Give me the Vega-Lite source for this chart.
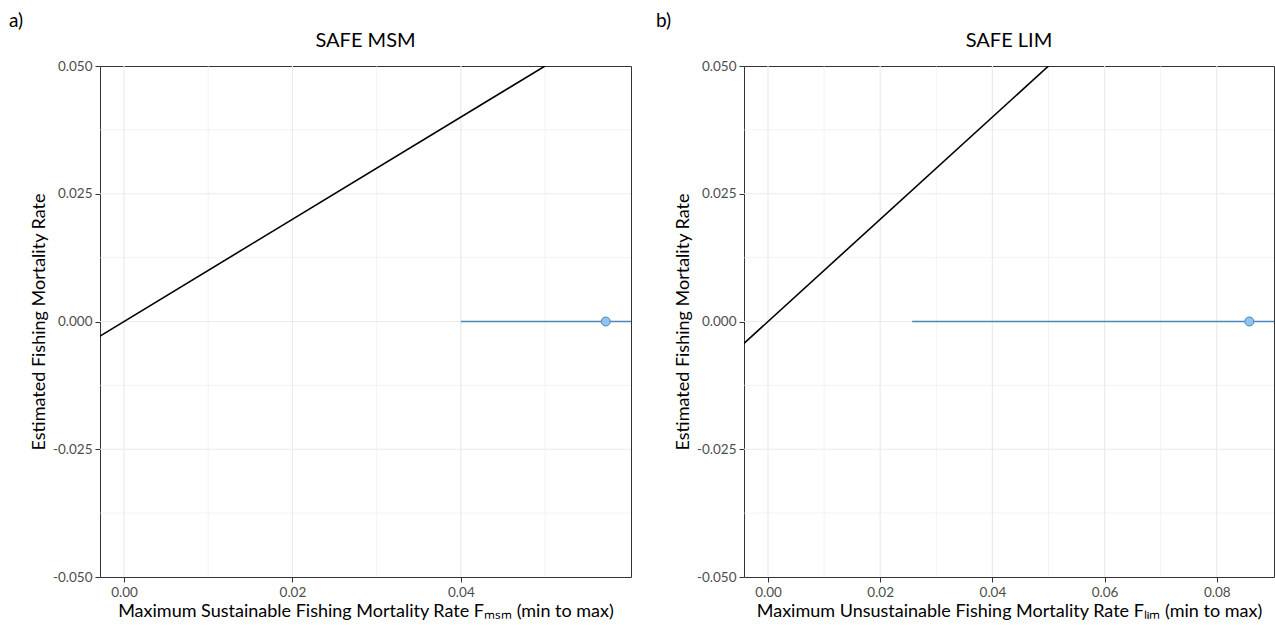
{
  "$schema": "https://vega.github.io/schema/vega-lite/v6.json",
  "padding": {"left": 8, "top": 11, "right": 0, "bottom": 0},
  "spacing": 22,
  "config": {
    "font": "Lato",
    "view": {"stroke": "#333333", "strokeWidth": 1},
    "axis": {
      "domain": false,
      "tickColor": "#333333",
      "tickSize": 5,
      "labelColor": "#4D4D4D",
      "labelFontSize": 13.5,
      "labelPadding": 3,
      "titleFontSize": 18,
      "titleFontWeight": "normal",
      "titleColor": "black",
      "grid": false
    },
    "title": {"fontSize": 20, "fontWeight": "normal", "color": "black"}
  },
  "hconcat": [
    {
      "title": {"text": "a)", "anchor": "start", "frame": "bounds", "fontSize": 19, "dx": -21, "offset": 0},
      "vconcat": [
        {
          "title": {"text": "SAFE MSM", "offset": 8},
          "width": 531,
          "height": 511,
          "layer": [
            {
              "data": {"values": [{"x": 0.01}, {"x": 0.03}, {"x": 0.05}]},
              "mark": {"type": "rule", "color": "#EBEBEB", "strokeWidth": 0.6},
              "encoding": {
                "x": {"field": "x", "type": "quantitative", "title": "Maximum Sustainable Fishing Mortality Rate Fₘₛₘ (min to max)",
                  "scale": {"domain": [-0.00285, 0.0602], "nice": false, "zero": false},
                  "axis": {"values": [0, 0.02, 0.04], "format": ".2f"}}
              }
            },
            {
              "data": {"values": [{"x": 0}, {"x": 0.02}, {"x": 0.04}]},
              "mark": {"type": "rule", "color": "#EBEBEB", "strokeWidth": 1.2},
              "encoding": {
                "x": {"field": "x", "type": "quantitative", "title": "Maximum Sustainable Fishing Mortality Rate Fₘₛₘ (min to max)"}
              }
            },
            {
              "data": {"values": [{"y": -0.0375}, {"y": -0.0125}, {"y": 0.0125}, {"y": 0.0375}]},
              "mark": {"type": "rule", "color": "#EBEBEB", "strokeWidth": 0.6},
              "encoding": {
                "y": {"field": "y", "type": "quantitative", "title": "Estimated Fishing Mortality Rate",
                  "scale": {"domain": [-0.05, 0.05], "nice": false, "zero": false},
                  "axis": {"values": [-0.05, -0.025, 0, 0.025, 0.05], "format": ".3f", "labelExpr": "replace(format(datum.value, '.3f'), '−', '-')"}}
              }
            },
            {
              "data": {"values": [{"y": -0.025}, {"y": 0}, {"y": 0.025}]},
              "mark": {"type": "rule", "color": "#EBEBEB", "strokeWidth": 1.2},
              "encoding": {
                "y": {"field": "y", "type": "quantitative", "title": "Estimated Fishing Mortality Rate"}
              }
            },
            {
              "data": {"values": [{"x": -0.01, "y": -0.01}, {"x": 0.1, "y": 0.1}]},
              "mark": {"type": "line", "color": "black", "strokeWidth": 1.6, "clip": true},
              "encoding": {
                "x": {"field": "x", "type": "quantitative", "title": "Maximum Sustainable Fishing Mortality Rate Fₘₛₘ (min to max)"},
                "y": {"field": "y", "type": "quantitative", "title": "Estimated Fishing Mortality Rate"}
              }
            },
            {
              "data": {"values": [{"x": 0.04, "x2": 0.07, "y": 0}]},
              "mark": {"type": "rule", "color": "#4A86B8", "strokeWidth": 1.5, "clip": true},
              "encoding": {
                "x": {"field": "x", "type": "quantitative", "title": "Maximum Sustainable Fishing Mortality Rate Fₘₛₘ (min to max)"},
                "x2": {"field": "x2"},
                "y": {"field": "y", "type": "quantitative", "title": "Estimated Fishing Mortality Rate"}
              }
            },
            {
              "data": {"values": [{"x": 0.0572, "y": 0}]},
              "mark": {"type": "point", "shape": "circle", "filled": true, "fill": "#8EC5F0", "stroke": "#4A86B8", "strokeWidth": 1, "size": 80, "opacity": 1},
              "encoding": {
                "x": {"field": "x", "type": "quantitative", "title": "Maximum Sustainable Fishing Mortality Rate Fₘₛₘ (min to max)"},
                "y": {"field": "y", "type": "quantitative", "title": "Estimated Fishing Mortality Rate"}
              }
            }
          ]
        }
      ]
    },
    {
      "title": {"text": "b)", "anchor": "start", "frame": "bounds", "fontSize": 19, "dx": -18, "offset": 0},
      "vconcat": [
        {
          "title": {"text": "SAFE LIM", "offset": 8},
          "width": 530,
          "height": 511,
          "layer": [
            {
              "data": {"values": [{"x": 0.01}, {"x": 0.03}, {"x": 0.05}, {"x": 0.07}]},
              "mark": {"type": "rule", "color": "#EBEBEB", "strokeWidth": 0.6},
              "encoding": {
                "x": {"field": "x", "type": "quantitative", "title": "Maximum Unsustainable Fishing Mortality Rate Fₗᵢₘ (min to max)",
                  "scale": {"domain": [-0.00428, 0.0902], "nice": false, "zero": false},
                  "axis": {"values": [0, 0.02, 0.04, 0.06, 0.08], "format": ".2f"}}
              }
            },
            {
              "data": {"values": [{"x": 0}, {"x": 0.02}, {"x": 0.04}, {"x": 0.06}, {"x": 0.08}]},
              "mark": {"type": "rule", "color": "#EBEBEB", "strokeWidth": 1.2},
              "encoding": {
                "x": {"field": "x", "type": "quantitative", "title": "Maximum Unsustainable Fishing Mortality Rate Fₗᵢₘ (min to max)"}
              }
            },
            {
              "data": {"values": [{"y": -0.0375}, {"y": -0.0125}, {"y": 0.0125}, {"y": 0.0375}]},
              "mark": {"type": "rule", "color": "#EBEBEB", "strokeWidth": 0.6},
              "encoding": {
                "y": {"field": "y", "type": "quantitative", "title": "Estimated Fishing Mortality Rate",
                  "scale": {"domain": [-0.05, 0.05], "nice": false, "zero": false},
                  "axis": {"values": [-0.05, -0.025, 0, 0.025, 0.05], "format": ".3f", "labelExpr": "replace(format(datum.value, '.3f'), '−', '-')"}}
              }
            },
            {
              "data": {"values": [{"y": -0.025}, {"y": 0}, {"y": 0.025}]},
              "mark": {"type": "rule", "color": "#EBEBEB", "strokeWidth": 1.2},
              "encoding": {
                "y": {"field": "y", "type": "quantitative", "title": "Estimated Fishing Mortality Rate"}
              }
            },
            {
              "data": {"values": [{"x": -0.01, "y": -0.01}, {"x": 0.1, "y": 0.1}]},
              "mark": {"type": "line", "color": "black", "strokeWidth": 1.6, "clip": true},
              "encoding": {
                "x": {"field": "x", "type": "quantitative", "title": "Maximum Unsustainable Fishing Mortality Rate Fₗᵢₘ (min to max)"},
                "y": {"field": "y", "type": "quantitative", "title": "Estimated Fishing Mortality Rate"}
              }
            },
            {
              "data": {"values": [{"x": 0.0257, "x2": 0.1, "y": 0}]},
              "mark": {"type": "rule", "color": "#4A86B8", "strokeWidth": 1.5, "clip": true},
              "encoding": {
                "x": {"field": "x", "type": "quantitative", "title": "Maximum Unsustainable Fishing Mortality Rate Fₗᵢₘ (min to max)"},
                "x2": {"field": "x2"},
                "y": {"field": "y", "type": "quantitative", "title": "Estimated Fishing Mortality Rate"}
              }
            },
            {
              "data": {"values": [{"x": 0.0858, "y": 0}]},
              "mark": {"type": "point", "shape": "circle", "filled": true, "fill": "#8EC5F0", "stroke": "#4A86B8", "strokeWidth": 1, "size": 80, "opacity": 1},
              "encoding": {
                "x": {"field": "x", "type": "quantitative", "title": "Maximum Unsustainable Fishing Mortality Rate Fₗᵢₘ (min to max)"},
                "y": {"field": "y", "type": "quantitative", "title": "Estimated Fishing Mortality Rate"}
              }
            }
          ]
        }
      ]
    }
  ]
}
